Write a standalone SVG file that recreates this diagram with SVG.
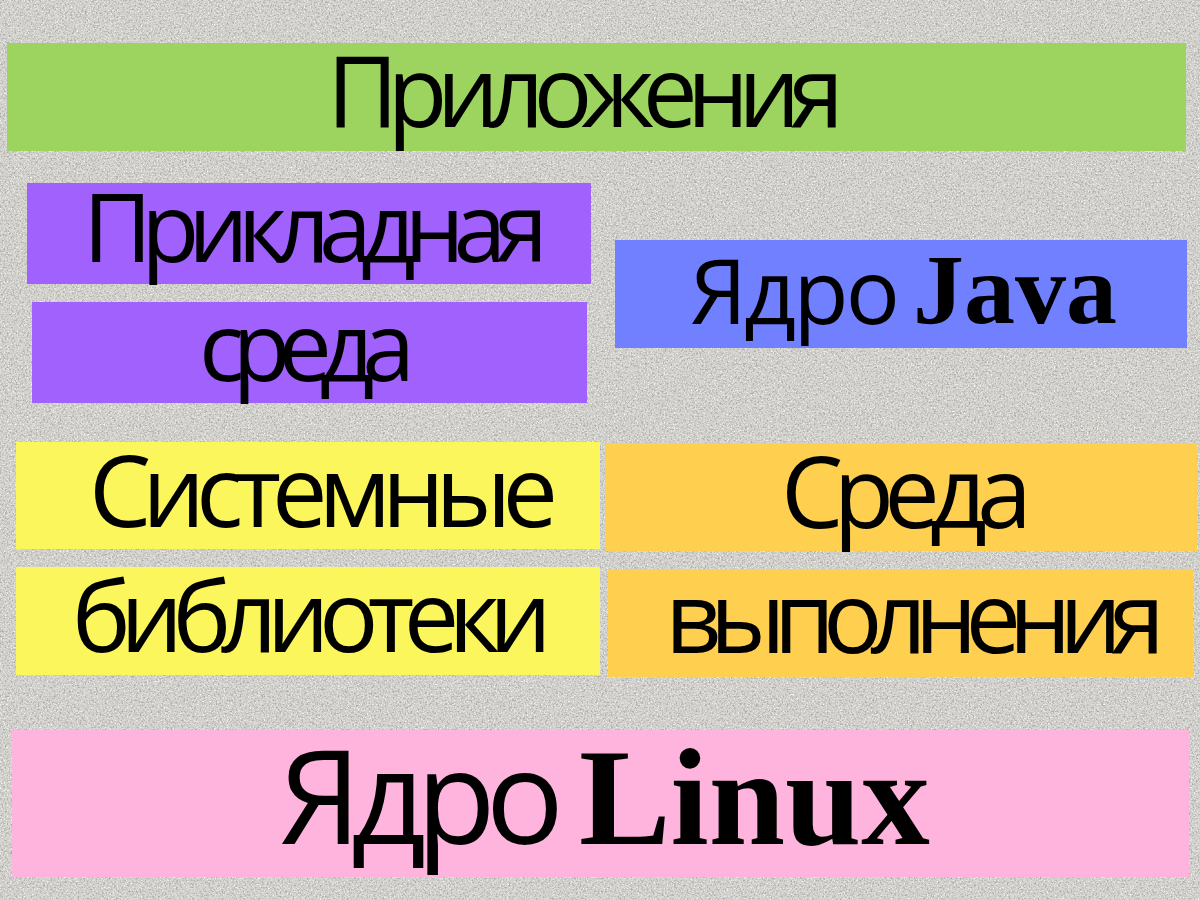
<svg xmlns="http://www.w3.org/2000/svg" width="1200" height="900" viewBox="0 0 1200 900">
  <style>
    .sans { font-family: "Open Sans", "Liberation Sans", "DejaVu Sans", sans-serif; fill: #000000; }
    .serif { font-family: "Liberation Serif", "DejaVu Serif", serif; font-weight: bold; fill: #000000; }
    .green { fill: #9DD35F; }
    .purple { fill: #A061FC; }
    .blue { fill: #7080FF; }
    .yellow { fill: #FAF65B; }
    .orange { fill: #FFCF4F; }
    .pink { fill: #FEB4DC; }
  </style>
  <defs>
    <filter id="stucco" x="0" y="0" width="1200" height="900" filterUnits="userSpaceOnUse">
      <feTurbulence type="fractalNoise" baseFrequency="0.55" numOctaves="4" seed="7" result="n"/>
      <feColorMatrix in="n" type="matrix" values="0 0 0 0 0.42  0 0 0 0 0.42  0 0 0 0 0.41  3.6 0 0 0 -1.75" result="dark"/>
      <feTurbulence type="fractalNoise" baseFrequency="0.7" numOctaves="2" seed="21" result="m"/>
      <feColorMatrix in="m" type="matrix" values="0 0 0 0 0.95  0 0 0 0 0.95  0 0 0 0 0.94  3.0 0 0 0 -1.5" result="light"/>
      <feMerge>
        <feMergeNode in="light"/>
        <feMergeNode in="dark"/>
      </feMerge>
    </filter>
  </defs>

  <g id="background">
    <rect x="0" y="0" width="1200" height="900" fill="#D2D1CC"/>
    <rect x="0" y="0" width="1200" height="900" filter="url(#stucco)"/>
  </g>

  <g id="node-prilozheniya">
    <rect class="green" x="7" y="43" width="1179" height="108"/>
    <text class="sans" x="327" y="127" font-size="98" textLength="517" lengthAdjust="spacing">Приложения</text>
  </g>

  <g id="node-prikladnaya-sreda">
    <rect class="purple" x="27" y="183" width="564" height="101"/>
    <text class="sans" x="83" y="262" font-size="95" textLength="465" lengthAdjust="spacing">Прикладная</text>
    <rect class="purple" x="32" y="302" width="555" height="101"/>
    <text class="sans" x="199" y="381" font-size="95" textLength="216" lengthAdjust="spacing">среда</text>
  </g>

  <g id="node-yadro-java">
    <rect class="blue" x="615" y="240" width="572" height="108"/>
    <text class="sans" x="690" y="324" font-size="90" textLength="210" lengthAdjust="spacing">Ядро</text>
    <text class="serif" x="913" y="323" font-size="100" textLength="204" lengthAdjust="spacingAndGlyphs">Java</text>
  </g>

  <g id="node-sistemnye-biblioteki">
    <rect class="yellow" x="16" y="442" width="584" height="107"/>
    <text class="sans" x="89" y="527" font-size="99" textLength="469" lengthAdjust="spacing">Системные</text>
    <rect class="yellow" x="16" y="567" width="584" height="108"/>
    <text class="sans" x="72" y="652" font-size="99" textLength="480" lengthAdjust="spacing">библиотеки</text>
  </g>

  <g id="node-sreda-vypolneniya">
    <rect class="orange" x="605" y="443" width="592" height="108"/>
    <text class="sans" x="781" y="528" font-size="99" textLength="251" lengthAdjust="spacing">Среда</text>
    <rect class="orange" x="608" y="569" width="585" height="108"/>
    <text class="sans" x="665" y="653" font-size="99" textLength="500" lengthAdjust="spacing">выполнения</text>
  </g>

  <g id="node-yadro-linux">
    <rect class="pink" x="12" y="730" width="1177" height="147"/>
    <text class="sans" x="279" y="844" font-size="130" textLength="285" lengthAdjust="spacing">Ядро</text>
    <text class="serif" x="579" y="844" font-size="137" textLength="351" lengthAdjust="spacingAndGlyphs">Linux</text>
  </g>
</svg>
